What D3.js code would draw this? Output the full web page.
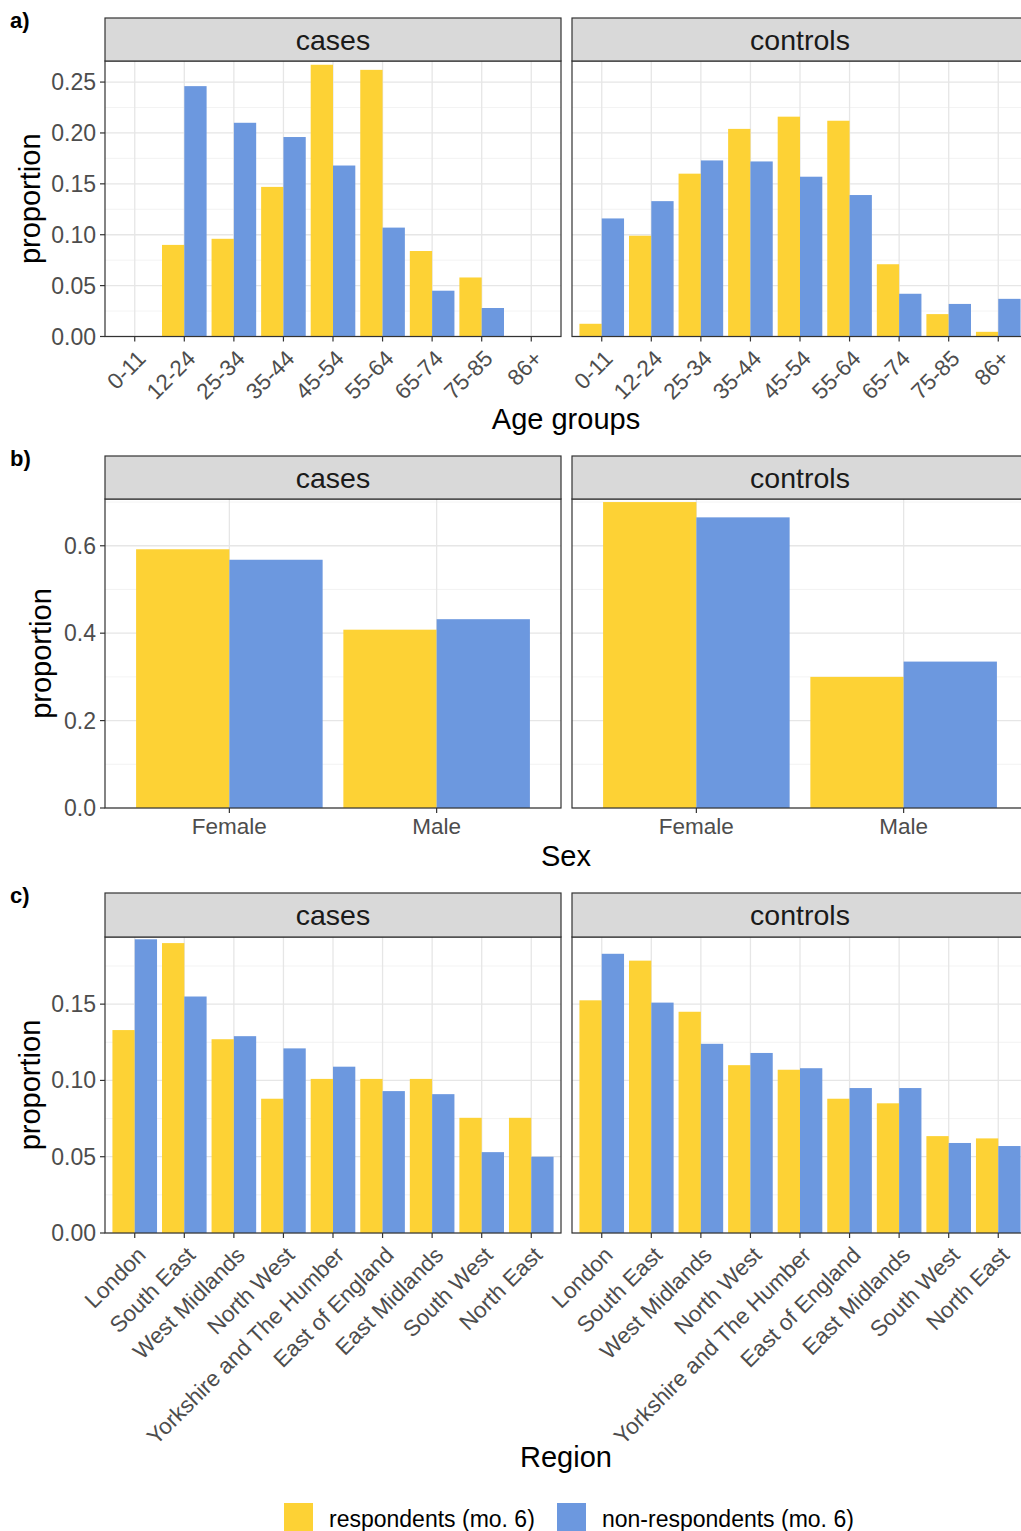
<!DOCTYPE html>
<html>
<head>
<meta charset="utf-8">
<script src="https://cdn.jsdelivr.net/npm/d3@7"></script>
<style>
  html, body { margin: 0; padding: 0; background: #fff; }
  svg { display: block; font-family: "Liberation Sans", Arial, sans-serif; }
</style>
</head>
<body>
<svg id="chart" width="1021" height="1531"></svg>
<script>
// ---------- DATA ----------
const facets = ["cases", "controls"];
const seriesNames = ["respondents (mo. 6)", "non-respondents (mo. 6)"];

const ageGroups = ["0-11", "12-24", "25-34", "35-44", "45-54", "55-64", "65-74", "75-85", "86+"];
const ageCasesResp    = [0, 0.090, 0.096, 0.147, 0.267, 0.262, 0.084, 0.058, 0];
const ageCasesNonResp = [0, 0.246, 0.210, 0.196, 0.168, 0.107, 0.045, 0.028, 0];
const ageControlsResp    = [0.0125, 0.099, 0.160, 0.204, 0.216, 0.212, 0.071, 0.022, 0.0046];
const ageControlsNonResp = [0.116, 0.133, 0.173, 0.172, 0.157, 0.139, 0.042, 0.032, 0.037];
const ageTicks = [0, 0.05, 0.10, 0.15, 0.20, 0.25];

const sexGroups = ["Female", "Male"];
const sexCasesResp    = [0.592, 0.408];
const sexCasesNonResp = [0.568, 0.432];
const sexControlsResp    = [0.700, 0.300];
const sexControlsNonResp = [0.665, 0.335];
const sexTicks = [0, 0.2, 0.4, 0.6];

const regions = ["London", "South East", "West Midlands", "North West", "Yorkshire and The Humber",
                 "East of England", "East Midlands", "South West", "North East"];
const regCasesResp    = [0.133, 0.190, 0.127, 0.088, 0.101, 0.101, 0.101, 0.0755, 0.0755];
const regCasesNonResp = [0.1925, 0.155, 0.129, 0.121, 0.109, 0.093, 0.091, 0.053, 0.050];
const regControlsResp    = [0.1525, 0.1785, 0.145, 0.110, 0.107, 0.088, 0.085, 0.0635, 0.062];
const regControlsNonResp = [0.183, 0.151, 0.124, 0.118, 0.108, 0.095, 0.095, 0.059, 0.057];
const regTicks = [0, 0.05, 0.10, 0.15];

// ---------- STYLE / LAYOUT ----------
const colors = ["#FDD235", "#6C98DF"];
const svg = d3.select("#chart");
const panelX = { cases: [105, 561], controls: [572, 1028] };

function drawRow(cfg) {
  const { label, labelY, stripTop, plotTop, plotBottom, cats, data, yMax, ticks, fmt, xTitle, xTitleY, yTitleX, rotate } = cfg;
  const y = d3.scaleLinear().domain([0, yMax]).range([plotBottom, plotTop]);
  const minor = [];
  for (let i = 0; i < ticks.length; i++) {
    const step = ticks[1] - ticks[0];
    const m = ticks[i] + step / 2;
    if (m < yMax) minor.push(m);
  }

  facets.forEach((f, fi) => {
    const [x0, x1] = panelX[f];
    const g = svg.append("g");
    const x = d3.scaleBand().domain(cats).range([x0, x1]).paddingInner(0.1).paddingOuter(0.15);
    const xs = d3.scaleBand().domain([0, 1]).range([0, x.bandwidth()]);

    g.append("rect").attr("x", x0).attr("y", plotTop).attr("width", x1 - x0).attr("height", plotBottom - plotTop).attr("fill", "#fff");
    g.selectAll(".mn").data(minor).join("line")
      .attr("x1", x0).attr("x2", x1).attr("y1", d => y(d)).attr("y2", d => y(d))
      .attr("stroke", "#F0F0F0").attr("stroke-width", 0.8);
    g.selectAll(".mj").data(ticks).join("line")
      .attr("x1", x0).attr("x2", x1).attr("y1", d => y(d)).attr("y2", d => y(d))
      .attr("stroke", "#E6E6E6").attr("stroke-width", 1.3);
    g.selectAll(".vj").data(cats).join("line")
      .attr("x1", d => x(d) + x.bandwidth() / 2).attr("x2", d => x(d) + x.bandwidth() / 2)
      .attr("y1", plotTop).attr("y2", plotBottom)
      .attr("stroke", "#E6E6E6").attr("stroke-width", 1.3);

    const series = data[f];
    series.forEach((vals, si) => {
      g.selectAll(".b" + si).data(vals.map((v, i) => ({ c: cats[i], v })).filter(d => d.v > 0)).join("rect")
        .attr("x", d => x(d.c) + xs(si))
        .attr("width", xs.bandwidth())
        .attr("y", d => y(d.v))
        .attr("height", d => y(0) - y(d.v))
        .attr("fill", colors[si]);
    });

    g.append("rect").attr("x", x0).attr("y", plotTop).attr("width", x1 - x0).attr("height", plotBottom - plotTop)
      .attr("fill", "none").attr("stroke", "#333").attr("stroke-width", 1.2);
    g.append("rect").attr("x", x0).attr("y", stripTop).attr("width", x1 - x0).attr("height", plotTop - stripTop)
      .attr("fill", "#D9D9D9").attr("stroke", "#333").attr("stroke-width", 1.2);
    g.append("text").attr("x", (x0 + Math.min(x1, 1028)) / 2).attr("y", (stripTop + plotTop) / 2)
      .attr("text-anchor", "middle").attr("dominant-baseline", "central")
      .attr("font-size", 28.5).attr("fill", "#1A1A1A").text(f);

    g.selectAll(".xt").data(cats).join("line")
      .attr("x1", d => x(d) + x.bandwidth() / 2).attr("x2", d => x(d) + x.bandwidth() / 2)
      .attr("y1", plotBottom).attr("y2", plotBottom + 5)
      .attr("stroke", "#333").attr("stroke-width", 1.2);
    if (rotate) {
      g.selectAll(".xl").data(cats).join("text")
        .attr("transform", d => `translate(${x(d) + x.bandwidth() / 2 + 1},${plotBottom + 12}) rotate(-45)`)
        .attr("text-anchor", "end").attr("dy", "0.72em")
        .attr("font-size", 22.5).attr("fill", "#4D4D4D").text(d => d);
    } else {
      g.selectAll(".xl").data(cats).join("text")
        .attr("x", d => x(d) + x.bandwidth() / 2).attr("y", plotBottom + 26)
        .attr("text-anchor", "middle")
        .attr("font-size", 22.5).attr("fill", "#4D4D4D").text(d => d);
    }

    if (fi === 0) {
      g.selectAll(".yt").data(ticks).join("line")
        .attr("x1", x0 - 5).attr("x2", x0).attr("y1", d => y(d)).attr("y2", d => y(d))
        .attr("stroke", "#333").attr("stroke-width", 1.2);
      g.selectAll(".yl").data(ticks).join("text")
        .attr("x", x0 - 9).attr("y", d => y(d)).attr("dominant-baseline", "central")
        .attr("text-anchor", "end").attr("font-size", 23).attr("fill", "#4D4D4D")
        .text(d => d3.format(fmt)(d));
    }
  });

  svg.append("text").attr("x", 566).attr("y", xTitleY).attr("text-anchor", "middle")
    .attr("font-size", 29).attr("fill", "#000").text(xTitle);
  svg.append("text").attr("transform", `translate(${yTitleX},${(plotTop + plotBottom) / 2}) rotate(-90)`)
    .attr("text-anchor", "middle").attr("dominant-baseline", "central")
    .attr("font-size", 29).attr("fill", "#000").text("proportion");
  svg.append("text").attr("x", 10).attr("y", labelY).attr("font-size", 22).attr("font-weight", "bold")
    .attr("fill", "#000").text(label);
}

drawRow({
  label: "a)", labelY: 28, stripTop: 18, plotTop: 61, plotBottom: 336.5,
  cats: ageGroups,
  data: { cases: [ageCasesResp, ageCasesNonResp], controls: [ageControlsResp, ageControlsNonResp] },
  yMax: 0.2707, ticks: ageTicks, fmt: ".2f",
  xTitle: "Age groups", xTitleY: 429, yTitleX: 30, rotate: true
});

drawRow({
  label: "b)", labelY: 466, stripTop: 456, plotTop: 499, plotBottom: 808,
  cats: sexGroups,
  data: { cases: [sexCasesResp, sexCasesNonResp], controls: [sexControlsResp, sexControlsNonResp] },
  yMax: 0.707, ticks: sexTicks, fmt: ".1f",
  xTitle: "Sex", xTitleY: 866, yTitleX: 41, rotate: false
});

drawRow({
  label: "c)", labelY: 903, stripTop: 893, plotTop: 937, plotBottom: 1233,
  cats: regions,
  data: { cases: [regCasesResp, regCasesNonResp], controls: [regControlsResp, regControlsNonResp] },
  yMax: 0.194, ticks: regTicks, fmt: ".2f",
  xTitle: "Region", xTitleY: 1467, yTitleX: 30, rotate: true
});

const legend = svg.append("g");
const legX = [284, 557];
seriesNames.forEach((n, i) => {
  legend.append("rect").attr("x", legX[i]).attr("y", 1503).attr("width", 29).attr("height", 29).attr("fill", colors[i]);
  legend.append("text").attr("x", legX[i] + 45).attr("y", 1519).attr("dominant-baseline", "central")
    .attr("font-size", 23).attr("fill", "#000").text(n);
});
</script>
</body>
</html>
